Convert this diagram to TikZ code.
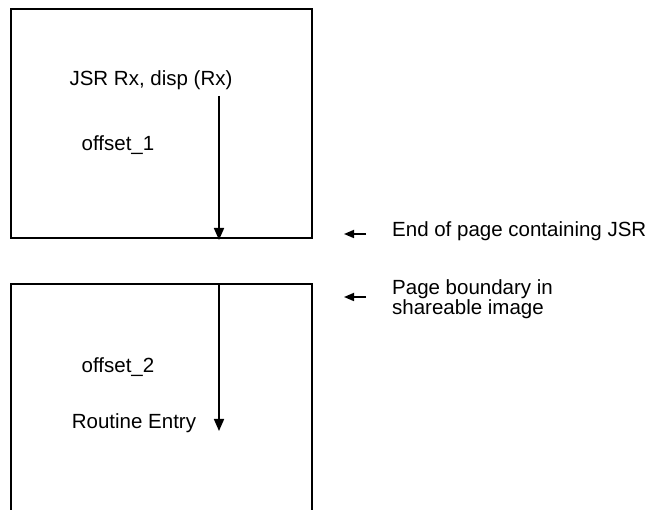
\documentclass[tikz,border=0pt]{standalone}
\usepackage{fontspec}
\setmainfont{Liberation Sans}
\usetikzlibrary{arrows.meta}
\begin{document}
\begin{tikzpicture}[x=1pt,y=-1pt,
  lbl/.style={inner sep=0pt,font=\fontsize{20.5}{20}\selectfont},
  frame/.style={line width=1.3pt},
  bigarrow/.style={line width=1.7pt,-{Triangle[width=10pt,length=12pt]}},
  smallarrow/.style={line width=1.7pt,-{Triangle[width=8pt,length=10pt]}}]
\useasboundingbox (0,0) rectangle (646,510);
% top page box
\draw[frame] (11,9) rectangle (312,238);
% bottom page box (open at bottom)
\draw[frame] (11,512) -- (11,284) -- (312,284) -- (312,512);
% texts
\node[lbl] (jsr) at (151,80) {JSR Rx, disp (Rx)};
\node[lbl] (off1) at (118,145) {offset\_1};
\node[lbl] (off2) at (118,367) {offset\_2};
\node[lbl] (entry) at (134,423) {Routine Entry};
\node[lbl,anchor=west] (endpage) at (392,231) {End of page containing JSR};
\node[lbl,anchor=west,align=left,font=\fontsize{20.5}{19}\selectfont] (bound) at (392,299) {Page boundary in\\shareable image};
% arrows
\coordinate (a1s) at (219,96);
\coordinate (a1e) at (219,240);
\coordinate (a2s) at (219,285);
\coordinate (a2e) at (219,431);
\draw[bigarrow] (a1s) -- (a1e);
\draw[bigarrow] (a2s) -- (a2e);
\coordinate (s1s) at (366,234);
\coordinate (s1e) at (344,234);
\coordinate (s2s) at (366,297);
\coordinate (s2e) at (344,297);
\draw[smallarrow] (s1s) -- (s1e);
\draw[smallarrow] (s2s) -- (s2e);
\end{tikzpicture}
\end{document}
